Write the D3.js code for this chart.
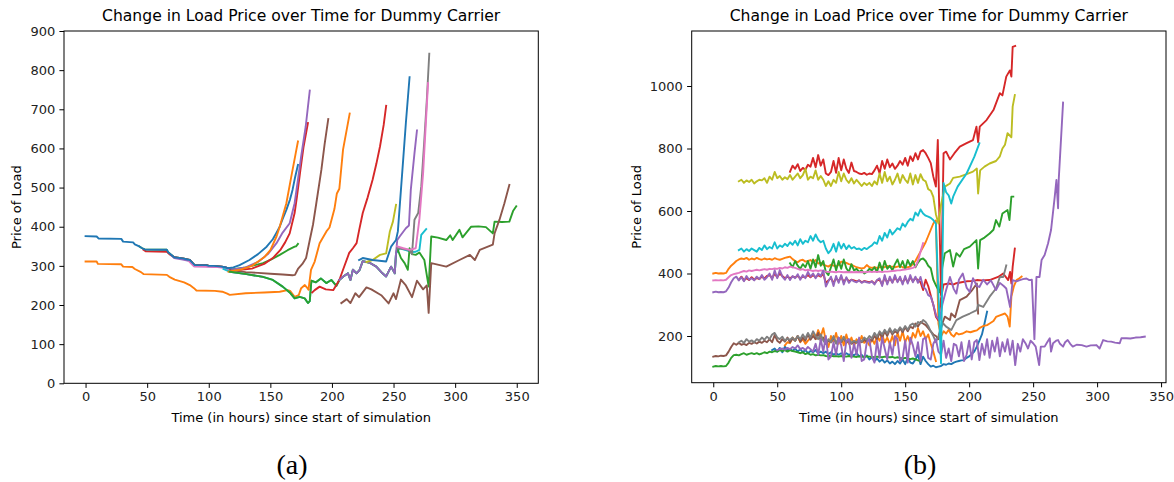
<!DOCTYPE html>
<html>
<head>
<meta charset="utf-8">
<script src="https://cdn.jsdelivr.net/npm/d3@7"></script>
<style>
  body { margin: 0; background: #fff; }
</style>
</head>
<body>
<svg id="chart" width="1174" height="482"></svg>
<script>
// ---- shared axis data ----
const title = "Change in Load Price over Time for Dummy Carrier";
const xLabel = "Time (in hours) since start of simulation";
const yLabel = "Price of Load";
const xTicks = [0, 50, 100, 150, 200, 250, 300, 350];
const yTicksA = [0, 100, 200, 300, 400, 500, 600, 700, 800, 900];
const yTicksB = [200, 400, 600, 800, 1000];

// ---- panel (a): [hour, price] ----
const aEarly = [[0,376],[9,375],[10.5,370],[29,369],[30.5,362],[38.6,360],[40,355],[44,349],[46,345],[48,342],
  [66,341],[67,335],[69.7,328],[72,322],[79,319],[84.6,315],[88.6,302],[98,302],[100,300],[104,300],
  [110,298],[112,297],[115.6,294]];
const aBand = [[112,292],[117,285],[130.6,279],[144,272],[152,264],[160,247],[165.7,232],[169.7,217],
  [173.8,221],[177.9,217],[180.5,205],[182,210],[183.3,262],[187,258],[191,268],[195.4,256],[199.5,264],
  [203.6,249],[206,264],[209,272],[213,281],[215,264],[217,290],[220,281],[222.5,290],[225,312],
  [230.6,308],[236,298],[241,281],[244,273],[248,298],[251,281],[252,332]];
const aBlue1Tail = [[120,296],[125,302],[133,315],[140,330],[147,349],[152,368],[155,385],[157.6,400],
  [160,420],[163,443],[166,470],[168,494],[170,525],[172.4,558]];
const aOrangeLow = [[0,311],[9,311],[10,305],[29,304],[30.5,298],[38,297],[40,292],[45,284],[47,279],
  [66,277],[68,272],[72.4,265],[80,258],[84.6,251],[88,243],[90,237],[105,236],[111,234],[115,229],
  [117,226],[130,230],[145,232],[157.6,234],[164,238],[166,236],[169.7,221],[173,225],[175,243],
  [178,251],[181,240]];
const aGreen1Tail = [[117,290],[130,296],[144,307],[150,315],[157.6,328],[164,340],[169.7,349],[171,350],[172.4,356]];
const aRed1Early = [[47,341],[49,337],[66,336],[68,330]];
const aRed1Tail = [[120,288],[135,293],[145,305],[152,320],[158,340],[162,360],[165.7,383],[169.7,435],
  [171.6,477],[174.4,545],[177,605],[180.5,665]];
const aPurple1Early = [[70,326],[72,320],[79,316],[84.6,312],[88.6,299],[98,299],[104,297]];
const aPurple1Tail = [[120,291],[130,296],[140,310],[148,330],[155,358],[160,385],[165.7,409],[169.7,460],
  [172.4,520],[175,580],[178.7,656],[182,748]];
const aBrown1Tail = [[118,288],[130,284],[140,282],[150,280],[160,278],[168,276],[170,277],[172.4,292],
  [176,305],[179,320],[182,366],[184.6,405],[187.3,460],[191.4,545],[194,610],[197,675]];
const aPink1 = [[84,312],[88,299],[107,297],[112,295],[115,292]];
const aOrange2 = [[116,285],[125,290],[135,300],[145,322],[150,340],[155,375],[157.6,400],[163,460],
  [167,528],[170.6,588],[172.4,618]];
const aCyanTail = [[255,345],[260,340],[265,335],[268,336],[271,341],[272.5,379],[276.5,394]];
const aGreenTail = [[253,345],[256,320],[259,307],[261.6,290],[263,345],[265,330],[268,328],[271,334],
  [275,315],[278.5,247],[280.6,375],[286,372],[292.8,366],[296,378],[298,366],[303.5,392],[306,373],
  [313,400],[319,401],[325,399],[330.6,383],[332,413],[338,412],[344,413],[347,440],[349.6,452]];
const aOrange3 = [[181,240],[183,290],[186,311],[190,358],[195.5,388],[198,398],[202,445],[204,485],
  [206,497],[209,597],[214.4,689]];
const aRed2 = [[184,232],[186,238],[190,247],[195,240],[201,238],[206,264],[209,290],[214,333],[217,345],
  [220,358],[222,390],[225,435],[229,475],[233,520],[236,560],[239,605],[242,660],[244,709]];
const aPurple2Tail = [[253,366],[255,375],[260,396],[262.5,403],[264,494],[267,588],[269,646]];
const aBrown2 = [[207.6,205],[212,215],[215,205],[219,230],[222,220],[228,245],[232,240],[240,225],
  [246,204],[250,230],[252,215],[256,265],[260,250],[265,220],[269,262],[274,240],[277,250],[278.5,180],
  [280.6,307],[292.8,298],[303.5,315],[312,328],[316,315],[320,341],[330.6,354],[332,383],[336,418],
  [340,460],[344,507]];
const aOlive = [[228,310],[233,315],[239,328],[244,332],[247,388],[249.5,413],[252,456]];
const aBlue2 = [[222,315],[225,320],[233,315],[244,311],[248,349],[252,366],[253.5,388],[256,494],
  [258,579],[260,665],[263,782]];
const aGray = [[253,345],[258,343],[262.5,341],[265,330],[267,418],[270,435],[272.5,503],[275,622],
  [277,724],[279,842]];
const aPink2 = [[253,350],[258,345],[263,341],[268,345],[271,420],[274,537],[278,767]];

// ---- panel (b): noisy parts every 2 hours from a start hour, then [hour, price] tails ----
const bRedTop = [726,745,735,750,728,738,732,748,742,770, 740,779,745,765,720,715,725,760,722,770,
  730,765,735,722,755,728,725,720,718,722, 716,720,718,730,745,721,760,735,765,740,
  752,735,745,760,748,770,745,775,760,785, 765,790,795,785,770,753];
const bRedTopTail = [[172,710],[174,678],[175.5,827],[178,331],[180,785],[182,790],[185,765],[188.5,785],
  [192.7,806],[198,817],[203,827],[205.7,870],[207,820],[208.3,870],[213.6,891],[219,923],[224,977],
  [226,970],[229,1030],[231.8,1050],[233,1030],[234,1125],[236,1128]];
const bOlive = [695,700,690,698,693,700,688,695,700,698, 705,690,710,700,725,705,712,700,708,702,
  715,700,710,720,705,715,735,700,710,705, 730,700,712,700,680,695,680,700,690,725,
  695,720,700,690,705,688,700,690,680,690, 683,690,680,695,685,720,690,725,695,710,
  685,700,720,690,715,700,690,720,685,715, 690,718,700,695,670,665];
const bOliveTail = [[172,645],[174,590],[176,560],[178,620],[181,678],[185,688],[187.5,706],[192.7,710],
  [198,718],[203,726],[206,736],[207,656],[208.6,730],[212,742],[216,752],[221,760],[224,775],[226,800],
  [228,812],[230,849],[233,836],[234,934],[235.7,971]];
const bCyan = [475,480,470,478,472,480,475,470,482,475, 490,478,485,480,500,480,490,485,495,488,
  500,492,505,490,510,495,505,500,520,505, 525,508,500,505,480,465,475,495,470,500,
  480,495,478,490,480,485,478,480,475,482, 478,485,490,500,495,520,505,530,515,540,
  525,535,545,540,560,550,565,575,570,595, 585,605,592,585,582,578];
const bCyanTail = [[172,571],[174,560],[176,330],[178,113],[180,690],[182,660],[184,650],[186,624],
  [187.5,646],[191,678],[198,720],[204,773],[208,817]];
const bGreenHigh = [433,420,440,425,415,430,420,440,415,445, 420,459,425,440,405,395,420,445,410,440,
  415,445,417,405,430,410,415,405,410,400, 405,415,410,420,405,435,410,440,415,425,
  410,430,445,420,440,415,443,425,440,420, 435,445,448,440,425,417];
const bGreenHighTail = [[172,380],[174.5,358],[177,340],[179,420],[181,465],[185,475],[187.5,422],[190,465],
  [192.7,454],[196,478],[200.5,486],[205.7,507],[207,416],[208.6,507],[212,515],[216,528],[219,540],
  [221,571],[223.6,550],[226,592],[230,603],[231.5,571],[233,646],[234.5,646]];
const bOrangeMid = [400,402,400,401,400,402,415,425,432,440, 445,448,446,450,444,448,445,450,446,444,
  448,445,447,444,449,446,444,447,450,452, 454,446,440,436,442,444,438,440,443,436,
  443,432,434,428,425,422,428,425,422,428, 438,436,434,430,428,424,420,418,416,418,
  427,420,418,420,418,420,422,420,424,422, 422,420,422,424,420,418,420,422,430,440,
  455,470,485,500,520,540,560,570];
const bOrangeMidTail = [[176,240],[178,198],[180,215],[182,208],[184,220],[186,205],[188,198],[190,210],
  [192,205],[195,208],[198,215],[201,212],[204,216],[206,218],[208,225],[211,232],[214,235],[216,240],
  [219,248],[221,261],[224,266],[228,272],[230,262],[231.7,230],[233,326],[235,360],[237,379],[239,384],[241,390]];
const bPink = [378,379,378,379,378,380,388,395,398,400, 402,405,408,406,410,408,410,412,410,412,
  414,412,415,414,416,415,418,416,420,418, 422,420,418,415,412,414,410,412,410,408,
  410,408,410,408,406,405,406,405,404,406, 405,404,405,404,405,404,405,404,405,404,
  405,406,405,406,405,406,405,406,406,407, 408,409,410,410,412,413,414,416,418,422, 440,470,497];
const bPurpleMid = [340,342,340,341,340,343,355,372,385,390, 378,388,375,392,380,385,378,390,382,395,
  380,388,400,380,410,385,411,390,380,395, 379,392,385,398,380,395,385,405,390,400,
  385,400,392,410,358,375,390,360,392,370, 395,365,388,370,380,375,372,378,370,375,
  372,370,375,365,379,385,360,395,365,390, 370,395,372,390,365,392,368,395,372,390,
  370,389,358,350,331,326];
const bPurpleMidTail = [[172,300],[174.5,262],[177,250],[179,300],[182,347],[185,389],[188,350],[190,336],
  [192,380],[195,400],[198,355],[200.5,341],[203,385],[206,360],[208,357],[211,380],[214,365],[217,378],
  [221,347],[224,370],[227,360],[229,352],[232,293],[234,379],[237,375],[239.6,379],[242,382],[244.8,384],
  [247,379],[249,380],[251,190],[252.6,389],[255,389],[256.6,443],[259,459],[261.7,497],[264,539],
  [266.9,646],[268.2,699],[269.5,609],[270,699],[273.4,947]];
const bPurpleLow = [155,158,160,156,162,158,165,160,170,158, 162,155,165,158,150,175,140,190,150,200,
  125,135,180,140,195,170,120,185,190,130, 175,140,195,120,125,180,190,135,115,185,
  130,195,160,125,180,140,200,190,120,130, 185,115,195,170,135,180,120,190,195,130,
  125,175,190,150,140,185,130,160,120,175, 170,135,180,120,140,185,125,180,187,123,
  175,140,190,130,185,150,195,135,180,150, 190,140,185,107,175,150,190,177,160,185, 177];
const bPurpleLowTail = [[252,166],[254.7,107],[256,166],[259,166],[261,180],[263,193],[264,150],[265.6,177],
  [268,185],[269.5,187],[271,175],[273.4,166],[275,180],[277,187],[279,175],[281,166],[284,172],[288,171],
  [291.7,166],[295,170],[299.5,171],[302,160],[304.7,187],[308,183],[311,182],[314,179],[317.7,177],
  [319,193],[323,193],[326,192],[330,195],[334,196],[337.3,198]];
const bBrownLow = [134,136,135,137,136,138,150,165,177,172, 178,172,175,171,178,175,180,176,182,178,
  185,180,190,180,203,185,178,190,182,195, 180,192,185,200,182,195,185,205,188,200,
  190,210,185,195,175,185,180,195,178,190, 180,192,178,185,175,182,178,185,180,188,
  182,190,185,200,190,210,195,215,200,220, 205,215,210,225,212,228,215,230,225,240,
  230,245,240,235,225,215,205,200,190];
const bBrownLowTail = [[179,240],[181,262],[185,251],[186,272],[189,260],[192.7,315],[198,326],[202,345],
  [206,368],[207,272]];
const bGray = [180,185,178,190,182,186,180,190,185,195, 188,198,190,205,210,195,190,198,185,192,
  188,195,185,200,190,205,192,210,195,215, 200,190,205,185,175,190,180,200,175,195,
  182,198,180,190,178,185,180,190,182,195, 188,200,192,210,198,215,205,220,208,225,
  210,222,215,228,218,232,220,235,240,230, 245,240,251,245,232,215,200,180,200];
const bGrayTail = [[178,230],[179.7,240],[182,230],[186,219],[190,251],[195,262],[200.5,272],[206,283],
  [207,300],[211,293],[216,326],[221,352],[224,389],[226.6,389],[228,410],[229,426]];
const bOrangeLow = [170,180,177,195,185,200,180,190,175,185, 195,210,190,219,198,225,185,165,200,180,
  210,175,200,170,205,175,195,168,190,175, 200,178,185,170,190,175,200,185,205,180,
  195,175,200,170,210,185,215,180,200,175, 210,195,225,200,215,190,205,175,150,120];
const bBlueLow = [155,160,150,162,148,166,155,158,152,160, 150,158,148,155,145,152,148,155,145,150,
  145,150,142,148,140,145,140,145,138,145, 140,142,138,145,135,140,130,138,125,132,
  120,128,118,125,115,122,112,118,110,120, 112,125,110,130,115,112,125,140,110,134,
  120,110,102,105,100,102,104,110,108,112, 110,115,118,120,122,123,130,135,142,150,
  166,185,205,240,278];
const bGreenLow = [102,104,103,104,103,104,115,130,139,140, 138,142,145,140,143,145,142,145,141,144,
  148,145,150,148,152,150,155,152,155,150, 155,152,150,148,145,148,142,145,140,142,
  138,140,138,139,136,135,137,135,136,134, 136,135,134,136,135,134,133,135,134,133,
  135,134,133,132,134,133,132,134,133,132, 133,130,132,130,128,130,128,126,128,125, 122,120];
const bRedMid = [380,390,378,385,379,388,380,386,382,390, 384,392,395,385,400,388,400,392,385,390,
  385,390,388,392,385,390,388,395,388,395, 388,395,390,400,370,378,385,370,385,375,
  390,372,385,375,380,378,375,378,372,376, 374,372,375,368,378,380,365,388,370,385,
  372,388,375,385,370,386,372,388,375,385, 379,372,347,380,360,330];
const bRedMidTail = [[172,300],[174,262],[176,250],[178,320],[180,365],[184,368],[188,365],[190,369],
  [194,372],[198,375],[202,376],[206,379],[210,378],[216,379],[222.6,389],[226.6,400],[230.5,379],
  [232,405],[233,368],[234,421],[235.7,480]];

// ---- helpers ----
const tab10 = {
  blue: "#1f77b4", orange: "#ff7f0e", green: "#2ca02c", red: "#d62728", purple: "#9467bd",
  brown: "#8c564b", pink: "#e377c2", gray: "#7f7f7f", olive: "#bcbd22", cyan: "#17becf"
};
function from(path, t0, t1) { return path.filter(d => d[0] >= t0 && d[0] <= t1); }
function every2h(start, values) { return values.map((v, i) => [start + 2 * i, v]); }

const seriesA = [
  { c: "orange", pts: aOrangeLow },
  { c: "green",  pts: from(aEarly, 43, 116).concat(aGreen1Tail) },
  { c: "red",    pts: aRed1Early.concat(from(aEarly, 72, 116), aRed1Tail) },
  { c: "purple", pts: aPurple1Early.concat(from(aEarly, 110, 116), aPurple1Tail) },
  { c: "brown",  pts: from(aEarly, 95, 116).concat(aBrown1Tail) },
  { c: "pink",   pts: aPink1.concat(from(aBand, 117, 150)) },
  { c: "blue",   pts: aEarly.concat(aBlue1Tail) },
  { c: "cyan",   pts: from(aBand, 112, 252).concat(aCyanTail) },
  { c: "orange", pts: aOrange2 },
  { c: "green",  pts: from(aBand, 117, 252).concat(aGreenTail) },
  { c: "orange", pts: aOrange3 },
  { c: "red",    pts: aRed2 },
  { c: "purple", pts: from(aBand, 205, 252).concat(aPurple2Tail) },
  { c: "brown",  pts: aBrown2 },
  { c: "olive",  pts: aOlive },
  { c: "blue",   pts: aBlue2 },
  { c: "gray",   pts: aGray },
  { c: "pink",   pts: aPink2 }
];

const seriesB = [
  { c: "blue",   pts: every2h(46, bBlueLow) },
  { c: "orange", pts: every2h(56, bOrangeLow) },
  { c: "orange", pts: every2h(0, bOrangeMid).concat(bOrangeMidTail) },
  { c: "green",  pts: every2h(0, bGreenLow) },
  { c: "green",  pts: every2h(60, bGreenHigh).concat(bGreenHighTail) },
  { c: "red",    pts: every2h(20, bRedMid).concat(bRedMidTail) },
  { c: "brown",  pts: every2h(0, bBrownLow).concat(bBrownLowTail) },
  { c: "gray",   pts: every2h(20, bGray).concat(bGrayTail) },
  { c: "pink",   pts: every2h(0, bPink) },
  { c: "purple", pts: every2h(0, bPurpleMid).concat(bPurpleMidTail) },
  { c: "purple", pts: every2h(50, bPurpleLow).concat(bPurpleLowTail) },
  { c: "red",    pts: every2h(60, bRedTop).concat(bRedTopTail) },
  { c: "olive",  pts: every2h(20, bOlive).concat(bOliveTail) },
  { c: "cyan",   pts: every2h(20, bCyan).concat(bCyanTail) }
];

const svg = d3.select("#chart");
svg.append("rect").attr("width", 1174).attr("height", 482).attr("fill", "#fff");

const sans = "'DejaVu Sans', sans-serif";

function drawPanel(p) {
  const x = d3.scaleLinear().domain(p.xDomain).range([p.left, p.right]);
  const y = d3.scaleLinear().domain(p.yDomain).range([p.bottom, p.top]);
  const g = svg.append("g");

  g.append("clipPath").attr("id", p.id)
    .append("rect")
      .attr("x", p.left).attr("y", p.top)
      .attr("width", p.right - p.left).attr("height", p.bottom - p.top);

  const line = d3.line().x(d => x(d[0])).y(d => y(d[1]));

  g.append("g").attr("clip-path", `url(#${p.id})`)
    .selectAll("path")
    .data(p.series)
    .join("path")
      .attr("d", d => line(d.pts))
      .attr("fill", "none")
      .attr("stroke", d => tab10[d.c])
      .attr("stroke-width", 1.9)
      .attr("stroke-linejoin", "round")
      .attr("stroke-linecap", "square");

  const xAxis = g.append("g")
    .attr("transform", `translate(0,${p.bottom})`)
    .call(d3.axisBottom(x).tickValues(xTicks).tickFormat(d3.format("d"))
      .tickSize(4.6).tickPadding(4.2).tickSizeOuter(0));
  const yAxis = g.append("g")
    .attr("transform", `translate(${p.left},0)`)
    .call(d3.axisLeft(y).tickValues(p.yTicks).tickFormat(d3.format("d"))
      .tickSize(4.6).tickPadding(4.2).tickSizeOuter(0));
  [xAxis, yAxis].forEach(a => {
    a.select(".domain").remove();
    a.attr("font-family", sans).attr("font-size", 13);
    a.selectAll("line").attr("stroke", "#000").attr("stroke-width", 1);
    a.selectAll("text").attr("fill", "#222");
  });

  g.append("rect")
    .attr("x", p.left).attr("y", p.top)
    .attr("width", p.right - p.left).attr("height", p.bottom - p.top)
    .attr("fill", "none").attr("stroke", "#000").attr("stroke-width", 1);

  const cx = (p.left + p.right) / 2;
  g.append("text").attr("x", cx).attr("y", 21).attr("text-anchor", "middle")
    .style("font-family", sans).attr("font-size", 15.6).attr("fill", "#000").text(title);
  g.append("text").attr("x", cx).attr("y", 422).attr("text-anchor", "middle")
    .style("font-family", sans).attr("font-size", 13).attr("fill", "#000").text(xLabel);
  g.append("text")
    .attr("transform", `translate(${p.yLabelX},${(p.top + p.bottom) / 2}) rotate(-90)`)
    .attr("text-anchor", "middle").style("font-family", sans)
    .attr("font-size", 13).attr("fill", "#000").text(yLabel);
  g.append("text").attr("x", p.captionX).attr("y", 474).attr("text-anchor", "middle")
    .style("font-family", "'Liberation Serif', serif")
    .attr("font-size", 28).attr("fill", "#000")
    .text(p.caption);
}

drawPanel({
  id: "clipA", left: 64, right: 538.3, top: 31, bottom: 383.3,
  xDomain: [-17.5, 367.5], yDomain: [0, 900], yTicks: yTicksA,
  series: seriesA, yLabelX: 21, captionX: 292, caption: "(a)"
});
drawPanel({
  id: "clipB", left: 691.7, right: 1166, top: 31, bottom: 382.7,
  xDomain: [-16.85, 353.85], yDomain: [50.6, 1176], yTicks: yTicksB,
  series: seriesB, yLabelX: 641, captionX: 920, caption: "(b)"
});
</script>
</body>
</html>
